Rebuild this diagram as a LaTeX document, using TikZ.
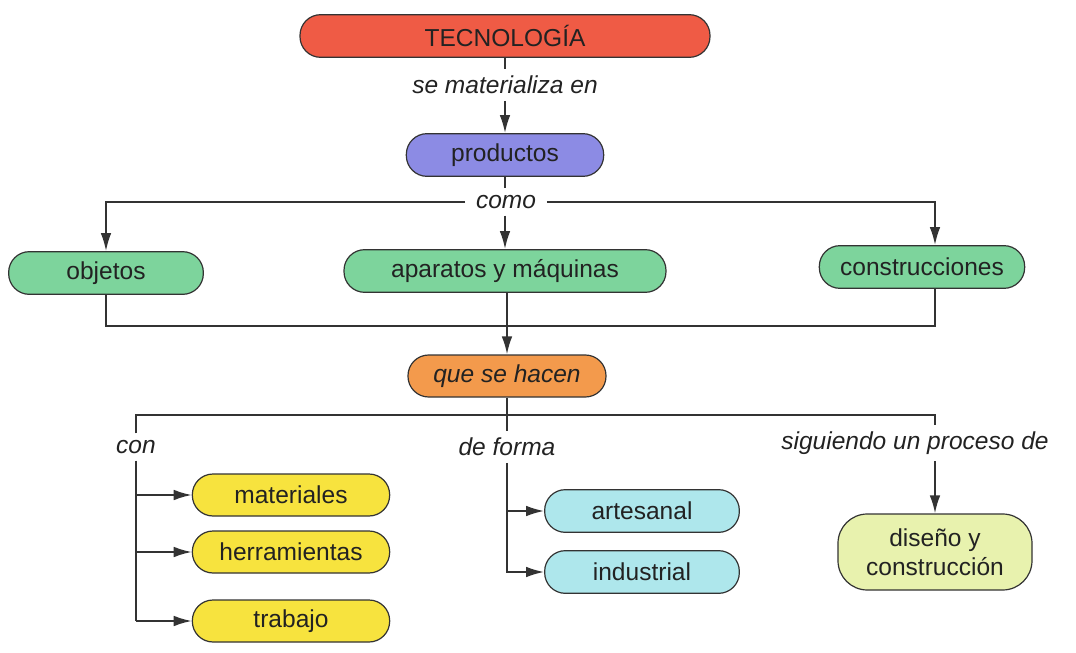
\documentclass[tikz,border=0pt]{standalone}
\usepackage{fontspec}
\setmainfont{Liberation Sans}
\usetikzlibrary{arrows.meta}
\definecolor{cTec}{HTML}{EF5B45}
\definecolor{cProd}{HTML}{8C8BE4}
\definecolor{cGreen}{HTML}{7DD49C}
\definecolor{cOrange}{HTML}{F39A4C}
\definecolor{cYellow}{HTML}{F7E33E}
\definecolor{cCyan}{HTML}{AEE7EC}
\definecolor{cPale}{HTML}{E8F2AE}
\definecolor{cLine}{HTML}{333333}
\definecolor{cText}{HTML}{222222}
\begin{document}
\begin{tikzpicture}[x=0.75pt,y=-0.75pt,
  box/.style={draw=cLine, line width=0.9pt, rounded corners=15.5pt, minimum height=32pt, inner sep=0pt, text=cText, font=\fontsize{18.4}{22}\selectfont},
  lab/.style={inner xsep=8pt, inner ysep=5pt, text=cText, font=\fontsize{18.4}{22}\selectfont\itshape},
  ln/.style={draw=cLine, line width=1.4pt},
  arr/.style={ln, -{Latex[length=13.5pt,width=8pt]}}]
\useasboundingbox (0,0) rectangle (1076,653);
% nodes
\node[box, fill=cTec, minimum width=307.5pt] (tec) at (505,36) {TECNOLOGÍA};
\node[lab] (l1) at (505,85) {se materializa en};
\node[box, fill=cProd, minimum width=148pt] (prod) at (505,155) {productos};
\node[lab] (como) at (506,202) {como};
\node[box, fill=cGreen, minimum width=146pt] (obj) at (106,273) {objetos};
\node[box, fill=cGreen, minimum width=241.5pt] (apa) at (505,271) {aparatos y máquinas};
\node[box, fill=cGreen, minimum width=154pt] (con) at (922,267) {construcciones};
\node[box, fill=cOrange, minimum width=148.5pt, minimum height=31.5pt, font=\fontsize{18.4}{22}\selectfont\itshape] (que) at (507,376) {que se hacen};
\node[lab] (lcon) at (136,447) {con};
\node[lab] (lforma) at (507,447) {de forma};
\node[lab] (lsig) at (915,443) {siguiendo un proceso de};
\node[box, fill=cYellow, minimum width=148pt, minimum height=31.5pt] (mat) at (291,495) {materiales};
\node[box, fill=cYellow, minimum width=148pt, minimum height=31.5pt] (her) at (291,552) {herramientas};
\node[box, fill=cYellow, minimum width=148pt, minimum height=31.5pt] (tra) at (291,621) {trabajo};
\node[box, fill=cCyan, minimum width=146pt] (art) at (642,511) {artesanal};
\node[box, fill=cCyan, minimum width=146pt] (ind) at (642,572) {industrial};
\node[box, fill=cPale, minimum width=145.5pt, minimum height=57pt, rounded corners=22pt, align=center] (dis) at (935,552) {diseño y\\construcción};
% coordinates
\coordinate (bl) at (106,326);
\coordinate (br) at (935,326);
\coordinate (hr) at (935,415);
% connectors
\draw[ln] (tec) -- (l1);
\draw[arr] (l1) -- (prod);
\draw[ln] (prod.south) -- (prod.south |- como.north);
\draw[arr] (como.west) -| (obj.north);
\draw[arr] (como.east) -| (con.north -| br);
\draw[arr] (como.south -| apa.north) -- (apa.north);
\draw[ln] (obj.south) -- (bl) -- (br) -- (con.south -| br);
\draw[arr] (que.north |- apa.south) -- (que.north);
\draw[ln] (que.south) -- (lforma.north);
\draw[ln] (lcon.north) |- (hr) -- (lsig.north -| hr);
\draw[arr] (lsig.south -| hr) -- (dis.north);
\draw[ln] (lcon.south) -- (lcon.south |- tra.west);
\draw[arr] (lcon.south |- mat.west) -- (mat.west);
\draw[arr] (lcon.south |- her.west) -- (her.west);
\draw[arr] (lcon.south |- tra.west) -- (tra.west);
\draw[arr] (lforma.south) |- (ind.west);
\draw[arr] (lforma.south |- art.west) -- (art.west);
\end{tikzpicture}
\end{document}
